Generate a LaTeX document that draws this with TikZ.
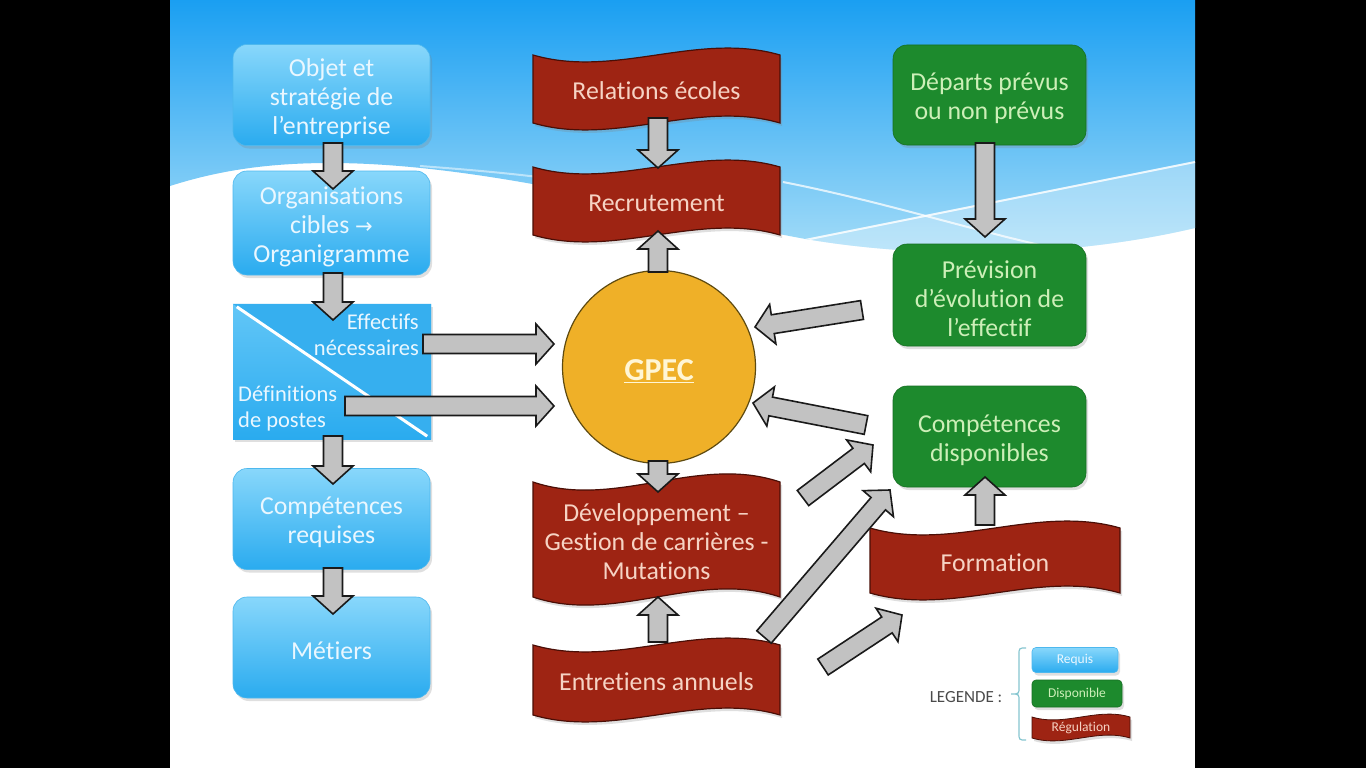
\documentclass[tikz,border=0pt]{standalone}
\usepackage{fontspec}
\setmainfont{Carlito}[Ligatures=NoCommon]
\newfontfamily\symfont{DejaVu Sans}
\usetikzlibrary{calc,shadows}
\definecolor{skytop}{HTML}{1A9FF2}
\definecolor{skybot}{HTML}{A8DEF8}
\definecolor{bluetop}{HTML}{88D7FB}
\definecolor{bluebot}{HTML}{2AABEF}
\definecolor{blueline}{HTML}{4DB8EE}
\definecolor{bluetxt}{HTML}{EAF7FF}
\definecolor{greenfill}{HTML}{1D8A2D}
\definecolor{greenline}{HTML}{166E22}
\definecolor{greentxt}{HTML}{CDEFB8}
\definecolor{redfill}{HTML}{9E2413}
\definecolor{redline}{HTML}{4A0E06}
\definecolor{redtxt}{HTML}{F6D3C4}
\definecolor{gpecfill}{HTML}{EFB028}
\definecolor{gpecline}{HTML}{5E4A10}
\definecolor{gpectxt}{HTML}{FFF6D5}
\definecolor{arrowfill}{HTML}{C2C2C2}
\definecolor{arrowline}{HTML}{1A1A1A}
\definecolor{splitdark}{HTML}{36AFEF}
\definecolor{splitlight}{HTML}{62C6F7}
\definecolor{bracecol}{HTML}{86C6D0}
\definecolor{legtxt}{HTML}{4A4A4A}
\newcommand\topstrut{\rule{0pt}{25pt}}
\tikzset{
  bigfont/.style={font=\fontsize{25.8}{29}\selectfont},
  bluebox/.style={rounded corners=14pt, minimum width=197pt, minimum height=101pt,
    top color=bluetop, bottom color=bluebot, draw=blueline, line width=0.6pt,
    text=bluetxt, align=center, inner sep=0pt, bigfont,
    drop shadow={opacity=0.25, shadow xshift=2pt, shadow yshift=-3pt}},
  greenbox/.style={rounded corners=14pt, minimum width=193pt, minimum height=101pt,
    fill=greenfill, draw=greenline, line width=0.6pt,
    text=greentxt, align=center, inner sep=0pt, bigfont,
    drop shadow={opacity=0.25, shadow xshift=2pt, shadow yshift=-3pt}},
  banner/.style={fill=redfill, draw=redline, line width=1.2pt,
    drop shadow={opacity=0.25, shadow xshift=2pt, shadow yshift=-3pt}},
  bannertext/.style={text=redtxt, align=center, inner sep=0pt, bigfont},
  barrow/.style={fill=arrowfill, draw=arrowline, line width=1.6pt, line join=miter},
}
\newcommand\wavebanner[7]{%
  \path[banner] (#2,#4) .. controls ({#2+(#3-#2)/3},{#4+#6}) and ({#2+2*(#3-#2)/3},{#4-#6}) .. (#3,#4)
    -- (#3,#5) .. controls ({#2+2*(#3-#2)/3},{#5-#6}) and ({#2+(#3-#2)/3},{#5+#6}) .. (#2,#5) -- cycle;
  \node[bannertext] (#1) at ({(#2+#3)/2},{(#4+#5)/2+2}) {#7};}
\newcommand\blockarrow[2]{%
  \path[barrow] let \p1=(#1), \p2=(#2), \n1={atan2(\y2-\y1,\x2-\x1)},
      \n2={veclen(\x2-\x1,\y2-\y1)-18} in
    ($(\p1)+({\n1+90}:9.5pt)$) -- ($(\p1)+({\n1+90}:9.5pt)+(\n1:\n2)$)
    -- ($(\p1)+({\n1+90}:20pt)+(\n1:\n2)$) -- (\p2)
    -- ($(\p1)+({\n1-90}:20pt)+(\n1:\n2)$) -- ($(\p1)+({\n1-90}:9.5pt)+(\n1:\n2)$)
    -- ($(\p1)+({\n1-90}:9.5pt)$) -- cycle;}
\begin{document}
\begin{tikzpicture}[x=1pt,y=-1pt]
\useasboundingbox (0,0) rectangle (1366,768);
% background
\fill[black] (0,0) rectangle (1366,768);
\fill[white] (170,0) rectangle (1195,768);
\begin{scope}
  \clip (170,0) -- (1195,0) -- (1195,228) .. controls (1050,262) and (900,256) .. (800,238)
    .. controls (650,210) and (480,163) .. (330,163) .. controls (270,163) and (220,170) .. (170,186) -- cycle;
  \shade[top color=skytop, bottom color=skybot] (170,0) rectangle (1195,262);
  \fill[white, opacity=0.3] (800,241) -- (1195,162) -- (1195,262) -- (800,262) -- cycle;
  \draw[white, opacity=0.85, line width=2pt] (800,241) -- (1195,162);
  \draw[white, opacity=0.75, line width=2pt] (783,182) .. controls (900,205) and (1000,240) .. (1103,258);
  \draw[white, opacity=0.5, line width=2pt] (420,166) .. controls (500,172) and (560,178) .. (620,190);
\end{scope}

% left column
\node[bluebox] (obj) at (331.5,95) {\topstrut Objet et\\strat\'egie de\\l’entreprise};
\node[bluebox, minimum height=104pt] (org) at (331.5,223) {\topstrut Organisations\\cibles {\symfont\fontsize{21}{29}\selectfont →}\\Organigramme};
% split box
\node[minimum width=198pt, minimum height=135pt, inner sep=0pt,
  drop shadow={opacity=0.25, shadow xshift=2pt, shadow yshift=-3pt},
  top color=splitlight, bottom color=bluebot] (def) at (332,371.5) {};
\fill[splitdark] (def.north west) -- (def.north east) -- (def.south east) -- cycle;
\draw[white, line width=3pt] ($(def.north west)+(4,3)$) -- ($(def.south east)+(-4,-3)$);
\node[text=bluetxt, align=right, inner sep=0pt, font=\fontsize{22.5}{26}\selectfont, anchor=east] (eff) at (419,335) {Effectifs\\n\'ecessaires};
\node[text=bluetxt, align=left, inner sep=0pt, font=\fontsize{22.5}{26}\selectfont, anchor=west] (defp) at (238,409) {D\'efinitions\\de postes};
\node[bluebox] (compreq) at (331.5,519) {\topstrut Comp\'etences\\requises};
\node[bluebox] (metiers) at (331.5,647.5) {\topstrut M\'etiers};

% middle column
\wavebanner{relec}{533}{780}{55}{123}{24}{Relations \'ecoles}
\wavebanner{recrut}{533}{780}{167}{235}{24}{Recrutement}
\wavebanner{devel}{533}{780}{482}{597}{28}{D\'eveloppement –\\Gestion de carri\`eres -\\Mutations}
\wavebanner{entret}{533}{780}{645}{715}{24}{Entretiens annuels}
\node[circle, minimum size=193pt, fill=gpecfill, draw=gpecline, line width=1.2pt, inner sep=0pt,
  text=gpectxt, font=\bfseries\fontsize{32}{36}\selectfont] (gpec) at (659,367) {\rule{0pt}{30pt}\underline{GPEC}};

% right column
\node[greenbox, minimum height=100pt] (depart) at (989.5,95) {\topstrut D\'eparts pr\'evus\\ou non pr\'evus};
\node[greenbox, minimum height=102pt] (prevision) at (989.5,295) {\topstrut Pr\'evision\\d’\'evolution de\\l’effectif};
\node[greenbox] (compdisp) at (989.5,436.5) {\topstrut Comp\'etences\\disponibles};
\wavebanner{formation}{870}{1120}{528}{593}{24}{Formation}

% arrow end points
\coordinate (a1s) at (333,143);  \coordinate (a1e) at (333,189);
\coordinate (a2s) at (333,273);  \coordinate (a2e) at (333,320);
\coordinate (a3s) at (333,436);  \coordinate (a3e) at (333,484);
\coordinate (a4s) at (333,568);  \coordinate (a4e) at (333,614);
\coordinate (b1s) at (423,344);  \coordinate (b1e) at (554,344);
\coordinate (b2s) at (345,406);  \coordinate (b2e) at (554,406);
\coordinate (c1s) at (658,118);  \coordinate (c1e) at (658,168);
\coordinate (c2s) at (658,272);  \coordinate (c2e) at (658,231);
\coordinate (c3s) at (658,461);  \coordinate (c3e) at (658,492);
\coordinate (c4s) at (658,642);  \coordinate (c4e) at (658,597);
\coordinate (d1s) at (985,143);  \coordinate (d1e) at (985,237);
\coordinate (d2s) at (985,525);  \coordinate (d2e) at (985,477);
\coordinate (e1s) at (862,310);  \coordinate (e1e) at (755,327);
\coordinate (e2s) at (866,425);  \coordinate (e2e) at (753,403);
\coordinate (f1s) at (803,498);  \coordinate (f1e) at (873,445);
\coordinate (f2s) at (764,637);  \coordinate (f2e) at (890,490);
\coordinate (f3s) at (823,667);  \coordinate (f3e) at (902,615);

\blockarrow{a1s}{a1e}
\blockarrow{a2s}{a2e}
\blockarrow{a3s}{a3e}
\blockarrow{a4s}{a4e}
\blockarrow{b1s}{b1e}
\blockarrow{b2s}{b2e}
\blockarrow{c1s}{c1e}
\blockarrow{c2s}{c2e}
\blockarrow{c3s}{c3e}
\blockarrow{c4s}{c4e}
\blockarrow{d1s}{d1e}
\blockarrow{d2s}{d2e}
\blockarrow{e1s}{e1e}
\blockarrow{e2s}{e2e}
\blockarrow{f1s}{f1e}
\blockarrow{f2s}{f2e}
\blockarrow{f3s}{f3e}

% legend
\node[text=legtxt, inner sep=0pt, font=\fontsize{17}{19}\selectfont] (leg) at (966,697) {LEGENDE :};
\draw[bracecol, line width=1.2pt] (1026,648) .. controls (1019,648) .. (1019,655) -- (1019,687)
  .. controls (1019,694) .. (1011,694) .. controls (1019,694) .. (1019,701) -- (1019,733)
  .. controls (1019,740) .. (1026,740);
\node[bluebox, minimum width=86pt, minimum height=25pt, rounded corners=4pt,
  font=\fontsize{13.5}{15}\selectfont] (lreq) at (1075,660) {Requis};
\node[greenbox, minimum width=90pt, minimum height=27pt, rounded corners=4pt,
  font=\fontsize{13.5}{15}\selectfont] (ldisp) at (1077,693.5) {Disponible};
\path[banner, line width=0.8pt] (1032,717) .. controls (1065,727) and (1097,707) .. (1130,717)
  -- (1130,738) .. controls (1097,728) and (1065,748) .. (1032,738) -- cycle;
\node[text=redtxt, inner sep=0pt, font=\fontsize{13.5}{15}\selectfont] (lreg) at (1081,728) {R\'egulation};
\end{tikzpicture}
\end{document}
